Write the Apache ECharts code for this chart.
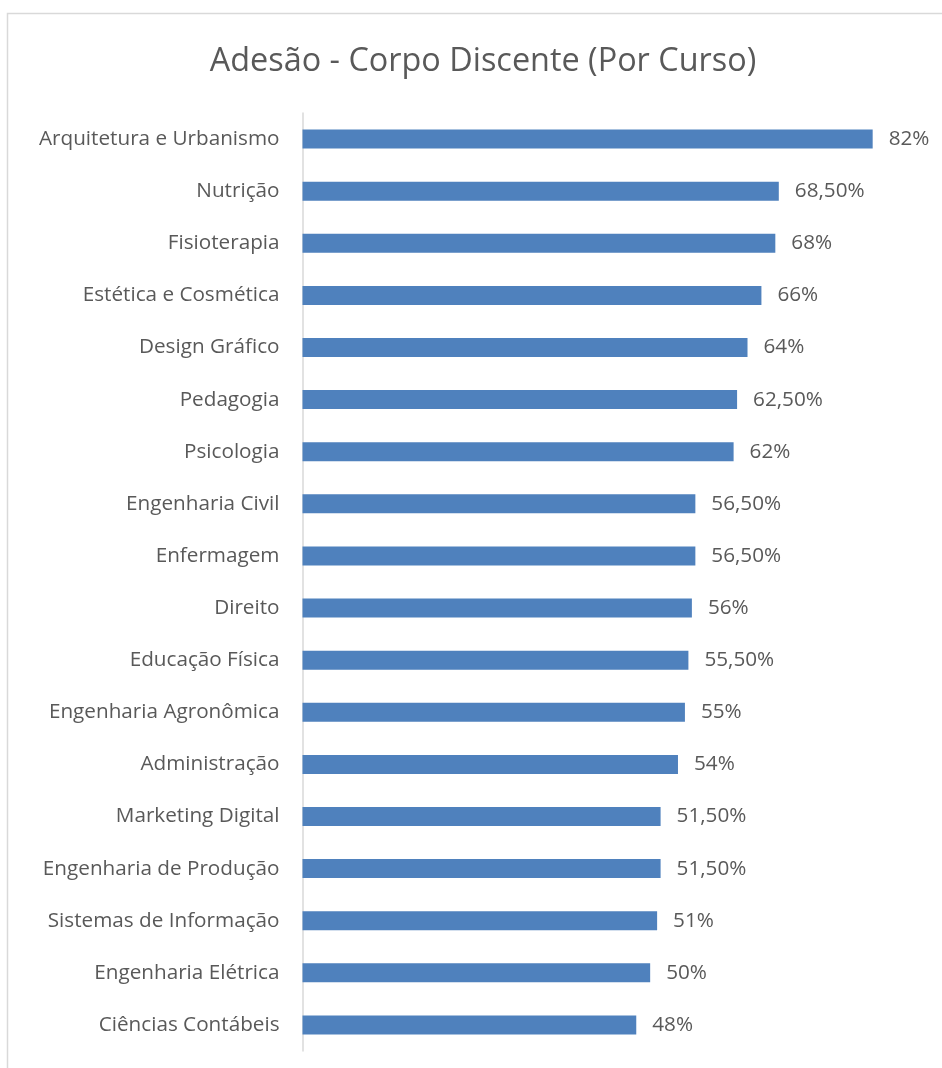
<!DOCTYPE html>
<html>
<head>
<meta charset="utf-8">
<script src="https://cdn.jsdelivr.net/npm/echarts@6/dist/echarts.min.js"></script>
<style>
  html, body { margin: 0; padding: 0; background: #ffffff; }
  #chart { width: 942px; height: 1068px; }
</style>
</head>
<body>
<div id="chart"></div>
<script>
// Courses, top to bottom
const cursos = [
  'Arquitetura e Urbanismo', 'Nutrição', 'Fisioterapia', 'Estética e Cosmética',
  'Design Gráfico', 'Pedagogia', 'Psicologia', 'Engenharia Civil', 'Enfermagem',
  'Direito', 'Educação Física', 'Engenharia Agronômica', 'Administração',
  'Marketing Digital', 'Engenharia de Produção', 'Sistemas de Informação',
  'Engenharia Elétrica', 'Ciências Contábeis'
];
// Adhesion percentage per course
const adesao = [82, 68.5, 68, 66, 64, 62.5, 62, 56.5, 56.5, 56, 55.5, 55, 54, 51.5, 51.5, 51, 50, 48];

const titulo = 'Adesão - Corpo Discente (Por Curso)';
const fonte = '"Open Sans", "Noto Sans", sans-serif';
const cinzaTexto = '#595959';

function formatoPct(v) {
  return Number.isInteger(v) ? v + '%' : v.toFixed(2).replace('.', ',') + '%';
}

const chart = echarts.init(document.getElementById('chart'), null, { renderer: 'canvas' });
chart.setOption({
  backgroundColor: '#ffffff',
  animation: false,
  title: {
    text: titulo,
    left: 478,
    textAlign: 'center',
    top: 41,
    textStyle: { fontFamily: fonte, fontSize: 32.4, fontWeight: 'normal', color: cinzaTexto }
  },
  graphic: [{
    type: 'rect',
    shape: { x: 7.5, y: 13.5, width: 1000, height: 1100 },
    style: { fill: 'none', stroke: '#d9d9d9', lineWidth: 1.5 },
    silent: true
  }],
  grid: { left: 302.5, top: 113, width: 625.8, height: 938, containLabel: false },
  xAxis: {
    type: 'value', min: 0, max: 90, show: false,
    splitLine: { show: false }
  },
  yAxis: {
    type: 'category',
    data: cursos,
    inverse: true,
    axisLine: { show: true, lineStyle: { color: '#d9d9d9', width: 1.5 } },
    axisTick: { show: false },
    axisLabel: { margin: 23, fontFamily: fonte, fontSize: 20.7, color: cinzaTexto }
  },
  series: [{
    type: 'bar',
    data: adesao,
    barWidth: 19,
    itemStyle: { color: '#4f81bd' },
    label: {
      show: true,
      position: 'right',
      distance: 16,
      fontFamily: fonte,
      fontSize: 20.7,
      color: cinzaTexto,
      formatter: p => formatoPct(p.value)
    }
  }]
});
</script>
</body>
</html>
